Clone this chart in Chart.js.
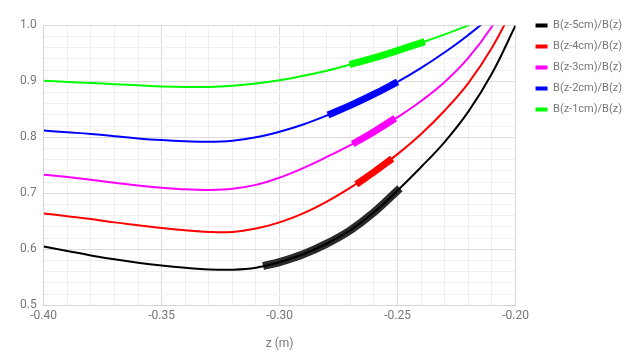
<!DOCTYPE html>
<html>
<head>
<meta charset="utf-8">
<script src="https://cdn.jsdelivr.net/npm/chart.js@4.4.0/dist/chart.umd.min.js"></script>
<style>
  html, body { margin: 0; padding: 0; background: #fff; }
  #wrap { width: 635px; height: 363px; }
</style>
</head>
<body>
<div id="wrap"><canvas id="c" width="635" height="363"></canvas></div>
<script>
// z positions (m)
const zValues = [-0.40,-0.39,-0.38,-0.37,-0.36,-0.35,-0.34,-0.33,-0.32,-0.31,-0.30,-0.29,-0.28,-0.27,-0.26,-0.25,-0.24,-0.23,-0.22,-0.21,-0.20];

// field ratios
const ratio5cm = [0.605,0.597,0.589,0.582,0.576,0.571,0.567,0.564,0.5635,0.567,0.577,0.591,0.610,0.634,0.666,0.705,0.747,0.792,0.846,0.914,1.000];
const ratio4cm = [0.664,0.659,0.654,0.648,0.643,0.638,0.634,0.631,0.631,0.637,0.648,0.664,0.685,0.710,0.738,0.770,0.806,0.848,0.897,0.960,1.040];
const ratio3cm = [0.733,0.729,0.724,0.719,0.714,0.710,0.707,0.706,0.708,0.715,0.728,0.745,0.765,0.786,0.810,0.836,0.865,0.899,0.942,0.998,1.070];
const ratio2cm = [0.812,0.809,0.806,0.802,0.798,0.795,0.793,0.792,0.794,0.800,0.810,0.823,0.839,0.857,0.877,0.899,0.924,0.952,0.983,1.018,1.060];
const ratio1cm = [0.901,0.899,0.897,0.895,0.893,0.891,0.890,0.890,0.892,0.896,0.902,0.910,0.919,0.930,0.942,0.955,0.969,0.984,1.000,1.018,1.040];

// highlighted (thick) segments
const hl5z = [-0.307,-0.30,-0.29,-0.28,-0.27,-0.26,-0.249];
const hl5y = [0.570,0.577,0.591,0.610,0.634,0.666,0.709];
const hl4z = [-0.2675,-0.26,-0.2523];
const hl4y = [0.716,0.738,0.762];
const hl3z = [-0.269,-0.26,-0.251];
const hl3y = [0.788,0.810,0.834];
const hl2z = [-0.2795,-0.27,-0.26,-0.25];
const hl2y = [0.840,0.857,0.877,0.899];
const hl1z = [-0.2703,-0.26,-0.25,-0.2385];
const hl1y = [0.930,0.942,0.955,0.971];

const labels = ['B(z-5cm)/B(z)','B(z-4cm)/B(z)','B(z-3cm)/B(z)','B(z-2cm)/B(z)','B(z-1cm)/B(z)'];
const colors = ['#000000','#ff0000','#ff00ff','#0000ff','#00ff00'];
const thickColors = ['#2a2a2a','#ff0000','#ff00ff','#0000ff','#00ff00'];

const xTicksMajor = [-0.40,-0.35,-0.30,-0.25,-0.20];
const yTicksMajor = [0.5,0.6,0.7,0.8,0.9,1.0];

const pts = (xs, ys) => xs.map((x, i) => ({x: x, y: ys[i]}));
const series = [ratio5cm, ratio4cm, ratio3cm, ratio2cm, ratio1cm];
const hl = [[hl5z,hl5y],[hl4z,hl4y],[hl3z,hl3y],[hl2z,hl2y],[hl1z,hl1y]];

const datasets = [];
series.forEach((s, i) => {
  datasets.push({
    label: labels[i],
    data: pts(zValues, s),
    borderColor: colors[i],
    backgroundColor: colors[i],
    borderWidth: 2,
    pointRadius: 0,
    tension: 0.4,
    clip: 0
  });
});
hl.forEach((h, i) => {
  datasets.push({
    label: '',
    data: pts(h[0], h[1]),
    borderColor: thickColors[i],
    backgroundColor: thickColors[i],
    borderWidth: i === 0 ? 8 : 7,
    borderCapStyle: 'butt',
    pointRadius: 0,
    tension: 0.4,
    clip: 0
  });
});

const isMajor = (v, list) => list.some(t => Math.abs(t - v) < 1e-6);

Chart.defaults.font.family = 'Roboto';
Chart.defaults.font.size = 12;
Chart.defaults.color = '#777';

const legendShift = {
  id: 'legendShift',
  afterLayout(chart) {
    const l = chart.legend;
    if (l) { l.left += 10; l.right += 10; }
  }
};

new Chart(document.getElementById('c'), {
  type: 'line',
  data: { datasets: datasets },
  plugins: [legendShift],
  options: {
    responsive: false,
    animation: false,
    layout: { padding: { left: 13, top: 10, right: 13, bottom: 8 } },
    plugins: {
      title: { display: true, text: '', padding: { top: 0, bottom: 1 }, font: { size: 12 } },
      legend: {
        position: 'right',
        align: 'start',
        labels: {
          boxWidth: 12,
          boxHeight: 4,
          padding: 10,
          font: { size: 11 },
          filter: (item) => item.datasetIndex < 5,
          generateLabels: (chart) => {
            const items = Chart.defaults.plugins.legend.labels.generateLabels(chart);
            items.forEach(it => { it.lineWidth = 0; });
            return items;
          }
        }
      },
      tooltip: { enabled: false }
    },
    scales: {
      x: {
        type: 'linear',
        min: -0.40,
        max: -0.20,
        border: { color: '#d6d6d6' },
        grid: {
          drawTicks: false,
          color: (ctx) => isMajor(ctx.tick.value, xTicksMajor) ? '#dcdcdc' : '#efefef'
        },
        ticks: {
          stepSize: 0.01,
          autoSkip: false,
          maxRotation: 0,
          padding: 4,
          callback: (v) => isMajor(v, xTicksMajor) ? v.toFixed(2) : ''
        },
        title: { display: true, text: 'z (m)', padding: { top: 9, bottom: 4 } }
      },
      y: {
        type: 'linear',
        min: 0.5,
        max: 1.0,
        border: { color: '#d6d6d6' },
        grid: {
          drawTicks: false,
          color: (ctx) => isMajor(ctx.tick.value, yTicksMajor) ? '#dcdcdc' : '#efefef'
        },
        ticks: {
          stepSize: 0.02,
          autoSkip: false,
          padding: 7,
          callback: (v) => isMajor(v, yTicksMajor) ? v.toFixed(1) : ''
        }
      }
    }
  }
});
</script>
</body>
</html>
